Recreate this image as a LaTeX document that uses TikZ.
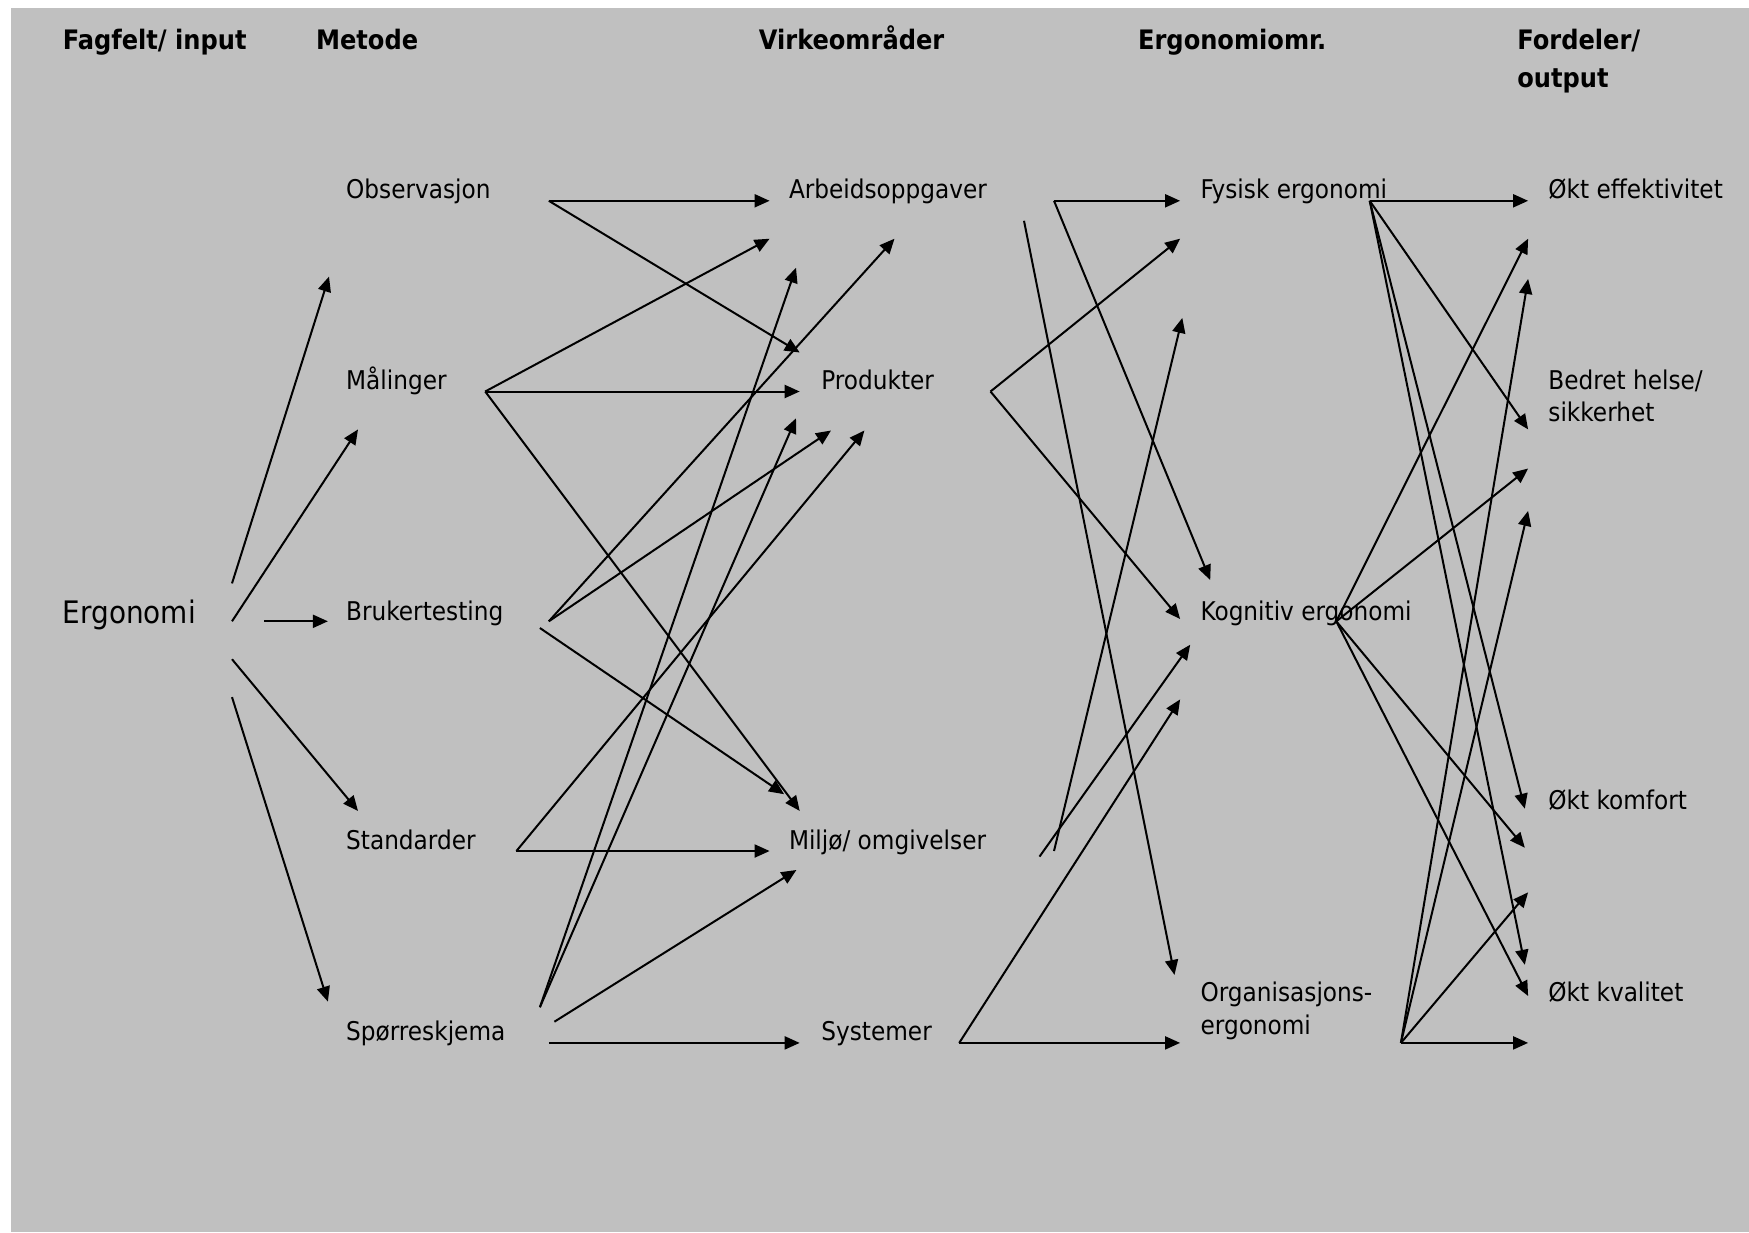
\documentclass[tikz,border=0pt]{standalone}
\usepackage{fontspec}
\setmainfont{DejaVu Sans Condensed}
\usepackage{tikz}
\usetikzlibrary{arrows.meta}
\definecolor{panelgray}{RGB}{192,192,192}
\tikzstyle{txt} = [anchor=base west, inner sep=0pt, align=left, font=\fontsize{12.9}{16.2}\selectfont]
\tikzstyle{head} = [anchor=base west, inner sep=0pt, align=left, font=\fontsize{13.4}{19}\selectfont\bfseries]
\tikzstyle{arrow} = [line width=1pt, -{Triangle[length=7.5pt, width=6.5pt]}]

\begin{document}
\begin{tikzpicture}[x=0.5pt, y=-0.5pt]
    \useasboundingbox (0,0) rectangle (1749,1232);
    \fill [panelgray] (11,8) rectangle (1749,1232);

    \node (hin) [head] at (62.5,49) {Fagfelt/ input};
    \node (hmet) [head] at (315.7,49) {Metode};
    \node (hvirk) [head] at (758.5,49) {Virkeområder};
    \node (hergo) [head] at (1137.7,49) {Ergonomiomr.};
    \node (hford) [head] at (1517,87) {Fordeler/\\output};

    \node (ergo) [txt, font=\fontsize{15.5}{19}\selectfont] at (62.5,623) {Ergonomi};

    \node (obs) [txt] at (345.8,198.5) {Observasjon};
    \node (maal) [txt] at (345.8,389) {Målinger};
    \node (bruk) [txt] at (345.8,620) {Brukertesting};
    \node (std) [txt] at (345.8,849) {Standarder};
    \node (spor) [txt] at (345.8,1040.6) {Spørreskjema};

    \node (arb) [txt] at (788.6,198.5) {Arbeidsoppgaver};
    \node (prod) [txt] at (821,389) {Produkter};
    \node (milj) [txt] at (788.6,849) {Miljø/ omgivelser};
    \node (sys) [txt] at (821,1040.6) {Systemer};

    \node (fys) [txt] at (1200.2,198.5) {Fysisk ergonomi};
    \node (kog) [txt] at (1200.2,620) {Kognitiv ergonomi};
    \node (org) [txt] at (1200.2,1034) {Organisasjons-\\ergonomi};

    \node (eff) [txt] at (1548,198.5) {Økt effektivitet};
    \node (helse) [txt] at (1548,421.6) {Bedret helse/\\sikkerhet};
    \node (komf) [txt] at (1548,809.7) {Økt komfort};
    \node (kval) [txt] at (1548,1001.6) {Økt kvalitet};

    \coordinate (ergo-o1) at (232,583.4);
    \coordinate (ergo-o2) at (232,621.3);
    \coordinate (ergo-o3) at (264.3,621.3);
    \coordinate (ergo-o4) at (232,659.2);
    \coordinate (ergo-o5) at (232,697.1);
    \coordinate (obs-i) at (329,276.6);
    \coordinate (maal-i) at (358,429.4);
    \coordinate (bruk-i) at (327.9,621.3);
    \coordinate (std-i) at (358,810.9);
    \coordinate (spor-i) at (327.9,1001.6);

    \coordinate (obs-o) at (548.8,200.8);
    \coordinate (maal-o) at (485.2,391.5);
    \coordinate (bruk-o1) at (548.8,621.3);
    \coordinate (bruk-o2) at (539.9,628);
    \coordinate (std-o) at (516.4,851);
    \coordinate (spor-o1) at (539.9,1007.2);
    \coordinate (spor-o2) at (554.4,1021.7);
    \coordinate (spor-o3) at (548.8,1042.9);
    \coordinate (arb-i1) at (769.6,200.8);
    \coordinate (arb-i2) at (769.6,238.7);
    \coordinate (arb-i3) at (894.5,238.7);
    \coordinate (arb-i4) at (796,267.7);
    \coordinate (prod-i1) at (799.7,352.5);
    \coordinate (prod-i2) at (799.7,391.5);
    \coordinate (prod-i3) at (831,430.5);
    \coordinate (prod-i4) at (864.4,430.5);
    \coordinate (prod-i5) at (796,418.3);
    \coordinate (milj-i1) at (799.7,810.9);
    \coordinate (milj-i2) at (784.1,794.2);
    \coordinate (milj-i3) at (769.6,851);
    \coordinate (milj-i4) at (796.4,870);
    \coordinate (sys-i) at (799.7,1042.9);

    \coordinate (arb-o1) at (1054,200.8);
    \coordinate (arb-o2) at (1024,220.8);
    \coordinate (prod-o) at (990.5,391.5);
    \coordinate (milj-o1) at (1039.5,856.6);
    \coordinate (milj-o2) at (1054,851);
    \coordinate (sys-o) at (959.2,1042.9);
    \coordinate (fys-i1) at (1180.1,200.8);
    \coordinate (fys-i2) at (1180.1,238.7);
    \coordinate (fys-i3) at (1182.3,317.9);
    \coordinate (kog-i1) at (1210.2,580);
    \coordinate (kog-i2) at (1180.1,619);
    \coordinate (kog-i3) at (1190.2,644.7);
    \coordinate (kog-i4) at (1180.1,699.4);
    \coordinate (org-i1) at (1174.5,974.9);
    \coordinate (org-i2) at (1180.1,1042.9);

    \coordinate (fys-o) at (1369.7,200.8);
    \coordinate (kog-o) at (1336.3,621.3);
    \coordinate (org-o) at (1400.9,1042.9);
    \coordinate (eff-i1) at (1528.1,200.8);
    \coordinate (eff-i2) at (1528.1,238.7);
    \coordinate (eff-i3) at (1528.1,278.9);
    \coordinate (helse-i1) at (1528.1,429.4);
    \coordinate (helse-i2) at (1528.1,468.5);
    \coordinate (helse-i3) at (1528.1,510.9);
    \coordinate (komf-i1) at (1524.8,808.7);
    \coordinate (komf-i2) at (1524.8,847.7);
    \coordinate (komf-i3) at (1528.1,892.3);
    \coordinate (kval-i1) at (1524.8,964.8);
    \coordinate (kval-i2) at (1528.1,996);
    \coordinate (kval-i3) at (1528.1,1042.9);

    \draw [arrow] (ergo-o1) -- (obs-i);
    \draw [arrow] (ergo-o2) -- (maal-i);
    \draw [arrow] (ergo-o3) -- (bruk-i);
    \draw [arrow] (ergo-o4) -- (std-i);
    \draw [arrow] (ergo-o5) -- (spor-i);

    \draw [arrow] (obs-o) -- (arb-i1);
    \draw [arrow] (obs-o) -- (prod-i1);
    \draw [arrow] (maal-o) -- (arb-i2);
    \draw [arrow] (maal-o) -- (prod-i2);
    \draw [arrow] (maal-o) -- (milj-i1);
    \draw [arrow] (bruk-o1) -- (arb-i3);
    \draw [arrow] (bruk-o1) -- (prod-i3);
    \draw [arrow] (bruk-o2) -- (milj-i2);
    \draw [arrow] (std-o) -- (milj-i3);
    \draw [arrow] (std-o) -- (prod-i4);
    \draw [arrow] (spor-o1) -- (arb-i4);
    \draw [arrow] (spor-o1) -- (prod-i5);
    \draw [arrow] (spor-o2) -- (milj-i4);
    \draw [arrow] (spor-o3) -- (sys-i);

    \draw [arrow] (arb-o1) -- (fys-i1);
    \draw [arrow] (arb-o1) -- (kog-i1);
    \draw [arrow] (arb-o2) -- (org-i1);
    \draw [arrow] (prod-o) -- (fys-i2);
    \draw [arrow] (prod-o) -- (kog-i2);
    \draw [arrow] (milj-o1) -- (kog-i3);
    \draw [arrow] (milj-o2) -- (fys-i3);
    \draw [arrow] (sys-o) -- (org-i2);
    \draw [arrow] (sys-o) -- (kog-i4);

    \draw [arrow] (fys-o) -- (eff-i1);
    \draw [arrow] (fys-o) -- (helse-i1);
    \draw [arrow] (fys-o) -- (komf-i1);
    \draw [arrow] (fys-o) -- (kval-i1);
    \draw [arrow] (kog-o) -- (eff-i2);
    \draw [arrow] (kog-o) -- (helse-i2);
    \draw [arrow] (kog-o) -- (komf-i2);
    \draw [arrow] (kog-o) -- (kval-i2);
    \draw [arrow] (org-o) -- (kval-i3);
    \draw [arrow] (org-o) -- (komf-i3);
    \draw [arrow] (org-o) -- (eff-i3);
    \draw [arrow] (org-o) -- (helse-i3);
\end{tikzpicture}
\end{document}
